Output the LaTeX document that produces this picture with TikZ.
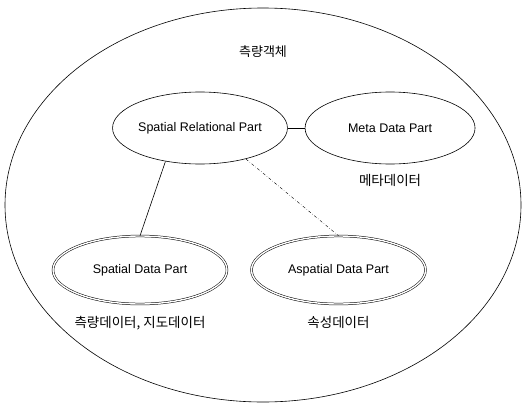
\documentclass[tikz,border=0pt]{standalone}
\usepackage{fontspec}
\setmainfont{Liberation Sans}
\newfontfamily\kor{Noto Sans CJK KR}
\usetikzlibrary{shapes.geometric, positioning}

\tikzset{
	part/.style={ellipse, draw, line width=0.6pt, inner sep=0pt, minimum width=170pt, minimum height=72pt, font=\fontsize{12.5}{14}\selectfont},
	datapart/.style={part, double, double distance=1.4pt, line width=0.5pt, minimum width=174pt, minimum height=68pt},
	korlabel/.style={font=\kor\fontsize{13.5}{15}\selectfont}
}

\begin{document}
\begin{tikzpicture}[x=1pt, y=-1pt]
		\useasboundingbox (0,0) rectangle (526,404);
		\node[ellipse, draw, line width=0.6pt, minimum width=516pt, minimum height=394pt, inner sep=0pt] (obj) at (263,205) {};
		\node[korlabel, font=\kor\fontsize{13}{15}\selectfont] (title) at (263,52) {측량객체};
		\node[part] (srp) at (200,128) {Spatial Relational Part};
		\node[part, right=17pt of srp] (meta) {Meta Data Part};
		\node[korlabel, below=6pt of meta] (metalbl) {메타데이터};
		\node[datapart] (sdp) at (140,270) {Spatial Data Part};
		\node[datapart, right=24pt of sdp] (adp) {Aspatial Data Part};
		\node[korlabel, below=9pt of sdp] (sdplbl) {측량데이터, 지도데이터};
		\node[korlabel, below=9pt of adp] (adplbl) {속성데이터};
		\draw[line width=0.6pt] (srp) -- (meta);
		\draw[line width=0.6pt] (srp.224) -- (sdp.north);
		\draw[line width=0.4pt, dash dot] (srp.326) -- (adp.north);
	\end{tikzpicture}
\end{document}
